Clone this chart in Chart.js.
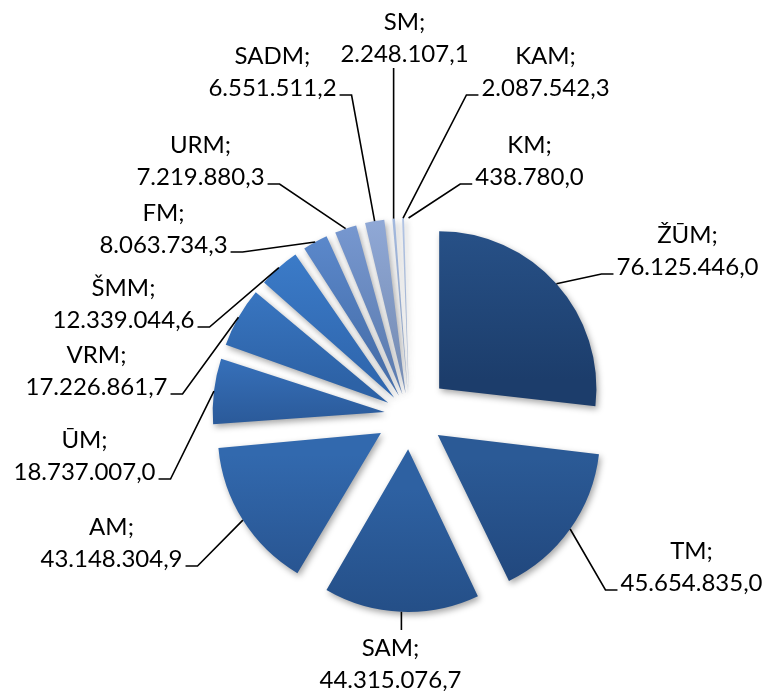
<!DOCTYPE html>
<html>
<head>
<meta charset="utf-8">
<script src="https://cdn.jsdelivr.net/npm/chart.js@4.4.1/dist/chart.umd.min.js"></script>
<style>
  html, body { margin: 0; padding: 0; background: #fff; }
  #wrap { width: 765px; height: 691px; }
</style>
</head>
<body>
<div id="wrap"><canvas id="ministry-pie" width="765" height="691"></canvas></div>
<script>
const ministries = ['ŽŪM', 'TM', 'SAM', 'AM', 'ŪM', 'VRM', 'ŠMM', 'FM', 'URM', 'SADM', 'SM', 'KAM', 'KM'];
const amounts = [76125446.0, 45654835.0, 44315076.7, 43148304.9, 18737007.0, 17226861.7,
                 12339044.6, 8063734.3, 7219880.3, 6551511.2, 2248107.1, 2087542.3, 438780.0];

// gradient ends for each slice (top -> bottom)
const topColors = ['#29548c', '#2b5a96', '#2e61a2', '#3269ae', '#3771bb', '#3a78c4', '#3d7ecc',
                   '#5e8cd0', '#7a9bd4', '#93acdb', '#a6bce2', '#b4c7e8', '#c5d4ee'];
const bottomColors = ['#1c3d6b', '#20457a', '#224a80', '#27528d', '#2b5b9b', '#2d62a6', '#3068b0',
                      '#4870ac', '#5f7fb3', '#7990b8', '#8fa3c4', '#a0b0cc', '#b3bfd4'];

// label block centre relative to the pie centre + where the leader joins it
const labelSpots = [
    [278, -164, 'right'], [282, 152, 'right'], [-19, 249, 'below'], [-298, 128, 'left'],
    [-325, 41, 'left'], [-313, -44, 'left'], [-286, -111, 'left'], [-246, -186, 'left'],
    [-209, -254, 'left'], [-137, -343, 'left'], [-5, -377, 'above'], [136, -343, 'right'],
    [120, -254, 'right']
];

const RADIUS = 157;
const EXPLODE = 40;
const LINE_H = 32;
const LABEL_FONT = '24px Lato';

const total = amounts.reduce((a, b) => a + b, 0);

function fmt(v) {
    const [int, dec] = v.toFixed(1).split('.');
    return int.replace(/\B(?=(\d{3})+(?!\d))/g, '.') + ',' + dec;
}

function sliceAngles(i) {
    const before = amounts.slice(0, i).reduce((a, b) => a + b, 0);
    const start = -Math.PI / 2 + before / total * 2 * Math.PI;
    return { start, end: start + amounts[i] / total * 2 * Math.PI };
}

// vertical gradient over each exploded slice's own box
function sliceFill(context) {
    const chart = context.chart;
    const area = chart.chartArea;
    const i = context.dataIndex;
    if (!area) return topColors[i];
    const cy = (area.top + area.bottom) / 2;
    const { start, end } = sliceAngles(i);
    const mid = (start + end) / 2;
    const oy = cy + Math.sin(mid) * EXPLODE;
    const ys = [oy, oy + Math.sin(start) * RADIUS, oy + Math.sin(end) * RADIUS];
    [Math.PI / 2, 3 * Math.PI / 2].forEach(a => {
        if (a > start && a < end) ys.push(oy + Math.sin(a) * RADIUS);
    });
    const g = chart.ctx.createLinearGradient(0, Math.min(...ys), 0, Math.max(...ys));
    g.addColorStop(0, topColors[i]);
    g.addColorStop(1, bottomColors[i]);
    return g;
}

// chart.js moves an arc by offset/4*(2-sin(circ)); undo that so every slice moves EXPLODE px
function sliceOffset(context) {
    const circ = amounts[context.dataIndex] / total * 2 * Math.PI;
    return 4 * EXPLODE / (2 - Math.sin(Math.min(Math.PI, circ)));
}

const sliceShadow = {
    id: 'sliceShadow',
    beforeDatasetsDraw(chart) {
        const c = chart.ctx;
        c.save();
        c.shadowColor = 'rgba(0,0,0,0.35)';
        c.shadowBlur = 6;
        c.shadowOffsetX = 2;
        c.shadowOffsetY = 3;
    },
    afterDatasetsDraw(chart) {
        chart.ctx.restore();
    }
};

const leaderLabels = {
    id: 'leaderLabels',
    afterDraw(chart) {
        const c = chart.ctx;
        const arcs = chart.getDatasetMeta(0).data;
        c.save();
        c.font = LABEL_FONT;
        c.fillStyle = '#000';
        c.strokeStyle = '#000';
        c.lineWidth = 1.6;
        c.textAlign = 'center';
        c.textBaseline = 'middle';
        arcs.forEach((arc, i) => {
            const mid = (arc.startAngle + arc.endAngle) / 2;
            const reach = EXPLODE + arc.outerRadius;
            const sx = arc.x + Math.cos(mid) * reach;
            const sy = arc.y + Math.sin(mid) * reach;
            const [dx, dy, side] = labelSpots[i];
            const lx = arc.x + dx;
            const ly = arc.y + dy;
            const val = fmt(amounts[i]);
            c.fillText(ministries[i] + ';', lx, ly - LINE_H / 2);
            c.fillText(val, lx, ly + LINE_H / 2);

            c.beginPath();
            c.moveTo(sx, sy);
            if (side === 'left' || side === 'right') {
                const w = c.measureText(val).width;
                const ay = ly + LINE_H / 2 + 7;
                const edge = side === 'right' ? lx - w / 2 - 3 : lx + w / 2 + 3;
                const knee = side === 'right' ? edge - 12 : edge + 12;
                c.lineTo(knee, ay);
                c.lineTo(edge, ay);
            } else if (side === 'above') {
                c.lineTo(sx, ly + LINE_H / 2 + 14);
            } else {
                c.lineTo(sx, ly - LINE_H / 2 - 18);
            }
            c.stroke();
        });
        c.restore();
    }
};

new Chart(document.getElementById('ministry-pie'), {
    type: 'pie',
    data: {
        labels: ministries,
        datasets: [{
            data: amounts,
            backgroundColor: sliceFill,
            borderWidth: 0,
            offset: sliceOffset,
            radius: RADIUS
        }]
    },
    options: {
        responsive: false,
        animation: false,
        events: [],
        layout: { padding: { left: 54, top: 139, right: 0, bottom: 0 } },
        plugins: {
            legend: { display: false },
            tooltip: { enabled: false }
        }
    },
    plugins: [sliceShadow, leaderLabels]
});
</script>
</body>
</html>
